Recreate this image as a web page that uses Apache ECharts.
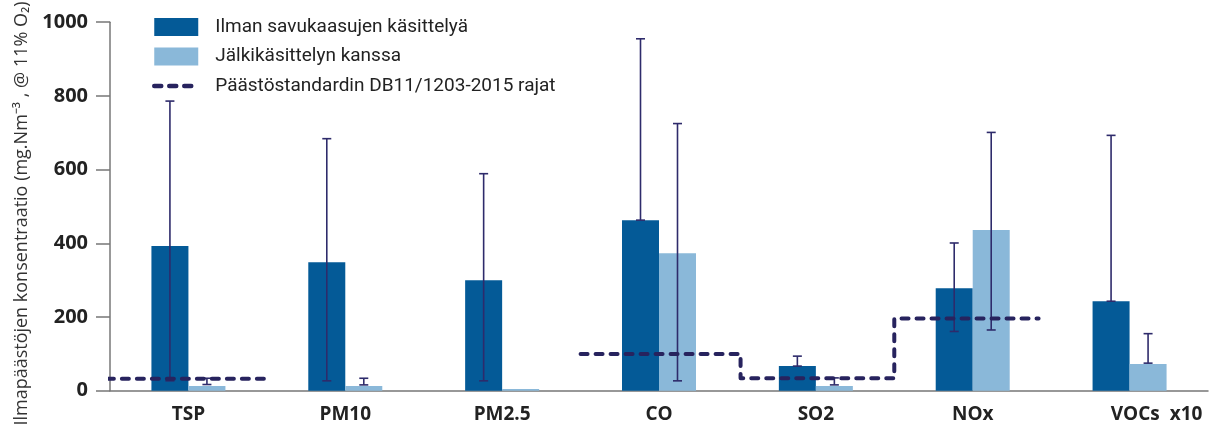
<!DOCTYPE html>
<html>
<head>
<meta charset="utf-8">
<script src="https://cdn.jsdelivr.net/npm/echarts@6/dist/echarts.min.js"></script>
<style>
html,body{margin:0;padding:0;background:#fff;}
#chart{width:1214px;height:427px;}
</style>
</head>
<body>
<div id="chart"></div>
<script>
// ---- data ----
const categories = ['TSP', 'PM10', 'PM2.5', 'CO', 'SO2', 'NOx', 'VOCs  x10'];
const untreated = [393, 349, 300, 463, 67, 278, 243];          // Ilman savukaasujen käsittelyä
const treated   = [13, 13, 5, 373, 13, 436, 73];                // Jälkikäsittelyn kanssa
const untreatedLow  = [27, 27, 27, 463, 67, 161, 243];
const untreatedHigh = [786, 684, 589, 955, 94, 401, 693];
const treatedLow    = [17, 16, null, 27, 16, 165, 75];
const treatedHigh   = [34, 34, null, 725, 35, 701, 155];
// emission limit line (x in category units along the axis, y in mg/Nm3)
const limitTspX = [-0.02, 1.02];
const limitTspY = [33, 33];
const limitStepX = [3, 4.02, 4.02, 5, 5, 5.92];
const limitStepY = [100, 100, 34, 34, 196, 196];
const yTicks = [0, 200, 400, 600, 800, 1000];

const NAME_A = 'Ilman savukaasujen käsittelyä';
const NAME_B = 'Jälkikäsittelyn kanssa';
const NAME_L = 'Päästöstandardin DB11/1203-2015 rajat';

const BAR_W = 37;
const DARK = '#045a97';
const LIGHT = '#8ab8d9';
const ERR = '#2e2b6b';
const LIMIT = '#27235e';

function errData(lo, hi) {
  const out = [];
  lo.forEach((v, i) => { if (v !== null && hi[i] !== null) out.push([i, v, hi[i]]); });
  return out;
}
function pair(xs, ys) { return xs.map((x, i) => [x, ys[i]]); }

function errRender(offset) {
  return function (params, api) {
    const i = api.value(0);
    const p1 = api.coord([i, api.value(1)]);
    const p2 = api.coord([i, api.value(2)]);
    const x = p1[0] + offset;
    const cap = 4.5;
    const style = { stroke: ERR, lineWidth: 1.6, fill: null };
    return {
      type: 'group',
      children: [
        { type: 'line', shape: { x1: x, y1: p1[1], x2: x, y2: p2[1] }, style: style },
        { type: 'line', shape: { x1: x - cap, y1: p1[1], x2: x + cap, y2: p1[1] }, style: style },
        { type: 'line', shape: { x1: x - cap, y1: p2[1], x2: x + cap, y2: p2[1] }, style: style }
      ]
    };
  };
}

const chart = echarts.init(document.getElementById('chart'), null, { renderer: 'canvas' });
const limitStyle = { color: LIMIT, width: 4, type: [7, 8], cap: 'round', join: 'round' };
const tickFont = { fontFamily: 'Open Sans', fontWeight: 'bold', fontSize: 20, color: '#222' };
const catFont = { fontFamily: 'Open Sans', fontWeight: 'bold', fontSize: 19, color: '#222' };

chart.setOption({
  animation: false,
  backgroundColor: '#fff',
  textStyle: { fontFamily: 'Open Sans' },
  grid: { left: 110, right: 6, top: 19, bottom: 33, containLabel: false },
  legend: {
    orient: 'vertical',
    left: 152,
    top: 16,
    padding: 0,
    itemWidth: 44,
    itemHeight: 18,
    itemGap: 7.5,
    textStyle: { fontFamily: 'Roboto', fontSize: 19, color: '#222', lineHeight: 22, padding: [0, 0, 0, 12] },
    data: [
      { name: NAME_A, icon: 'rect' },
      { name: NAME_B, icon: 'rect' },
      { name: NAME_L, itemStyle: { opacity: 0 }, lineStyle: { width: 4.5, type: [7, 8], cap: 'round', color: LIMIT } }
    ]
  },
  xAxis: [
    {
      type: 'category',
      data: categories,
      axisLine: { lineStyle: { color: '#777', width: 1.5 } },
      axisTick: { show: false },
      axisLabel: Object.assign({}, catFont, {
        interval: 0,
        margin: 14,
        formatter: function (v, i) {
          return i === categories.length - 1 ? '{last|' + v + '}' : v;
        },
        rich: { last: Object.assign({}, catFont, { padding: [0, 0, 0, 54] }) }
      })
    },
    {
      type: 'value', min: 0, max: 7, show: false
    }
  ],
  yAxis: {
    type: 'value',
    min: 0, max: 1000, interval: 200,
    name: 'Ilmapäästöjen konsentraatio (mg.Nm⁻³ , @ 11% O₂)',
    nameLocation: 'middle',
    nameGap: 78,
    nameTextStyle: { fontFamily: 'Open Sans', fontSize: 18, color: '#333', padding: [0, 14, 0, 0] },
    axisLine: { show: true, lineStyle: { color: '#777', width: 1.5 } },
    axisTick: { show: true, length: 14, lineStyle: { color: '#777', width: 1.5 } },
    splitLine: { show: false },
    axisLabel: Object.assign({}, tickFont, { margin: 22, formatter: function (v) { return String(v); } })
  },
  series: [
    { name: NAME_A, type: 'bar', data: untreated, barWidth: BAR_W, barGap: '0%', itemStyle: { color: DARK }, z: 2 },
    { name: NAME_B, type: 'bar', data: treated, barWidth: BAR_W, barGap: '0%', itemStyle: { color: LIGHT }, z: 2 },
    { name: 'errA', type: 'custom', data: errData(untreatedLow, untreatedHigh), renderItem: errRender(-BAR_W / 2), z: 3, silent: true },
    { name: 'errB', type: 'custom', data: errData(treatedLow, treatedHigh), renderItem: errRender(BAR_W / 2), z: 3, silent: true },
    { name: NAME_L, type: 'line', xAxisIndex: 1, data: pair(limitTspX, limitTspY), symbol: 'none', lineStyle: limitStyle, itemStyle: { color: LIMIT }, z: 4 },
    { name: NAME_L, type: 'line', xAxisIndex: 1, data: pair(limitStepX, limitStepY), symbol: 'none', lineStyle: limitStyle, itemStyle: { color: LIMIT }, z: 4 }
  ]
});
</script>
</body>
</html>
